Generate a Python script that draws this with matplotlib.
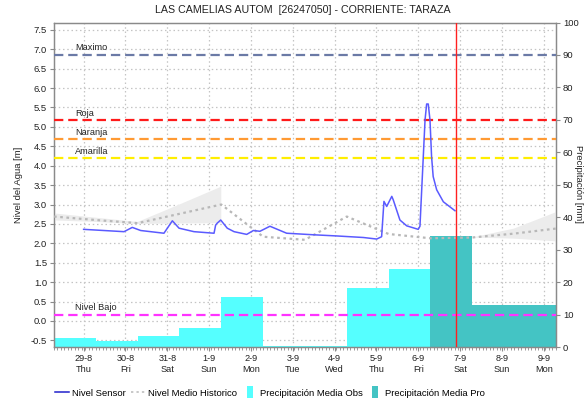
import numpy as np
import pandas as pd
import matplotlib
matplotlib.use('Agg')
import matplotlib.pyplot as plt
import matplotlib.dates as mdates
import matplotlib.transforms as mtransforms
from matplotlib.lines import Line2D
from matplotlib.ticker import FixedLocator, MultipleLocator

plt.rcParams['font.family'] = ['Liberation Sans', 'DejaVu Sans']

TITLE = 'LAS CAMELIAS AUTOM  [26247050] - CORRIENTE: TARAZA'

# Nivel Sensor (m)
sensor_time = ['2024-08-29 00:00', '2024-08-29 23:10', '2024-08-30 03:55', '2024-08-30 08:45',
               '2024-08-30 22:05', '2024-08-31 02:55', '2024-08-31 06:45', '2024-08-31 15:20',
               '2024-09-01 02:50', '2024-09-01 03:45', '2024-09-01 04:40', '2024-09-01 06:40',
               '2024-09-01 10:25', '2024-09-01 14:20', '2024-09-01 21:35', '2024-09-02 01:25',
               '2024-09-02 05:10', '2024-09-02 10:55', '2024-09-02 20:30', '2024-09-03 11:50',
               '2024-09-04 01:10', '2024-09-04 16:30', '2024-09-05 00:10', '2024-09-05 03:00',
               '2024-09-05 04:20', '2024-09-05 05:55', '2024-09-05 08:50', '2024-09-05 09:40',
               '2024-09-05 13:30', '2024-09-05 17:25', '2024-09-06 00:00', '2024-09-06 01:00',
               '2024-09-06 02:00', '2024-09-06 03:55', '2024-09-06 04:50', '2024-09-06 05:45',
               '2024-09-06 06:45', '2024-09-06 07:40', '2024-09-06 08:35', '2024-09-06 10:35',
               '2024-09-06 14:25', '2024-09-06 21:05']
sensor_level = [2.36, 2.30, 2.41, 2.33,
                2.26, 2.58, 2.39, 2.30,
                2.26, 2.47, 2.52, 2.60,
                2.39, 2.30, 2.23, 2.33,
                2.31, 2.44, 2.26, 2.22,
                2.19, 2.15, 2.11, 2.17,
                3.08, 2.95, 3.21, 3.12,
                2.60, 2.45, 2.36, 2.44,
                3.38, 5.18, 5.59, 5.59,
                5.18, 4.23, 3.72, 3.38,
                3.07, 2.84]

# Nivel Medio Historico (m) with its min/max band
hist_time = ['2024-08-28 07:00', '2024-08-29 07:00', '2024-08-30 07:00', '2024-08-31 07:00',
             '2024-09-01 07:00', '2024-09-02 07:00', '2024-09-03 07:00', '2024-09-04 07:00',
             '2024-09-05 07:00', '2024-09-06 07:00', '2024-09-07 07:00', '2024-09-08 07:00',
             '2024-09-09 07:00']
hist_level = [2.69, 2.60, 2.52, 2.76, 3.00, 2.17, 2.09, 2.69, 2.24, 2.13, 2.15, 2.25, 2.38]
hist_low = [2.59, 2.55, 2.50, 2.51, 2.52, np.nan, np.nan, np.nan, np.nan, np.nan, 2.15, 2.12, 2.05]
hist_high = [2.77, 2.66, 2.55, 3.00, 3.46, np.nan, np.nan, np.nan, np.nan, np.nan, 2.15, 2.38, 2.80]

# Precipitacion (mm), daily from 07:00
obs_start = ['2024-08-28 07:00', '2024-08-29 07:00', '2024-08-30 07:00', '2024-08-31 07:00',
             '2024-09-01 07:00', '2024-09-02 07:00', '2024-09-03 07:00', '2024-09-04 07:00',
             '2024-09-05 07:00']
obs_rain = [2.9, 1.9, 3.6, 6.1, 15.6, 0.5, 0.5, 18.4, 24.0]
pro_start = ['2024-09-06 07:00', '2024-09-07 07:00', '2024-09-08 07:00']
pro_rain = [34.4, 13.1, 13.1]

# umbrales
level_names = ['Maximo', 'Roja', 'Naranja', 'Amarilla', 'Nivel Bajo']
level_values = [6.86, 5.17, 4.69, 4.19, 0.16]
level_colors = ['#6b7aa6', '#ff1a1a', '#ff9a33', '#ffee00', '#ff33ff']

now_time = '2024-09-06 21:50'
day_labels = ['29-8\nThu', '30-8\nFri', '31-8\nSat', '1-9\nSun', '2-9\nMon', '3-9\nTue',
              '4-9\nWed', '5-9\nThu', '6-9\nFri', '7-9\nSat', '8-9\nSun', '9-9\nMon']

x_start = pd.Timestamp('2024-08-28 07:00')
x_end = pd.Timestamp('2024-09-09 07:00')
LEVEL_LO, LEVEL_HI = -0.68, 7.69

fig = plt.figure(figsize=(5.87, 4.04), dpi=100)
ax = fig.add_axes([0.092, 0.1403, 0.855, 0.804])   # precipitation (drawn first)
ax2 = ax.twinx()                                     # water level (on top)
ax.yaxis.tick_right()
ax.yaxis.set_label_position('right')
ax2.yaxis.tick_left()
ax2.yaxis.set_label_position('left')

# bars
obs_x = mdates.date2num(pd.to_datetime(obs_start))
pro_x = mdates.date2num(pd.to_datetime(pro_start))
ax.bar(obs_x, obs_rain, width=1.0, align='edge', color='#55ffff', linewidth=0, zorder=2)
ax.bar(pro_x, pro_rain, width=1.0, align='edge', color='#44c4c4', linewidth=0, zorder=2)
ax.set_ylim(0, 100)
ax.yaxis.set_major_locator(MultipleLocator(10))

# grid drawn behind the bars, at the level-axis ticks
level_ticks = np.arange(-0.5, 7.51, 0.5)
ax.yaxis.set_minor_locator(FixedLocator((level_ticks - LEVEL_LO) / (LEVEL_HI - LEVEL_LO) * 100))
ax.grid(which='minor', axis='y', color='#c4c4c4', linestyle=(0, (1.2, 2.2)), linewidth=0.9, zorder=0)
ax.grid(which='major', axis='x', color='#c4c4c4', linestyle=(0, (1.2, 2.2)), linewidth=0.9, zorder=0)
ax.set_axisbelow(True)

# historical band and mean
ht = pd.to_datetime(hist_time)
ax2.fill_between(ht, hist_low, hist_high, color='#ececec', linewidth=0, zorder=1)
ax2.plot(ht, hist_level, color='#b8b8b8', linewidth=1.6, linestyle=(0, (1.2, 1.6)), zorder=3)

# thresholds
lab_tr = mtransforms.blended_transform_factory(ax2.transAxes, ax2.transData)
for name, val, col in zip(level_names, level_values, level_colors):
    ax2.axhline(val, color=col, linewidth=1.6, linestyle=(0, (4.2, 2.2)), zorder=4)
    ax2.text(0.042, val + 0.06, name, transform=lab_tr, fontsize=6.6, color='#222222',
             va='bottom', ha='left', zorder=5)

# sensor
ax2.plot(pd.to_datetime(sensor_time), sensor_level, color='#5a5aff', linewidth=1.1, zorder=6)

# now
ax2.axvline(pd.Timestamp(now_time), color='#ff2020', linewidth=1.0, zorder=7)

ax2.set_ylim(LEVEL_LO, LEVEL_HI)
ax2.set_yticks(level_ticks)
ax2.set_yticklabels(['%.1f' % v for v in level_ticks])
ax.set_xlim(x_start, x_end)

ax.xaxis.set_major_locator(FixedLocator(mdates.date2num(pd.date_range('2024-08-29', '2024-09-09', freq='D'))))
ax.set_xticklabels(day_labels)
ax.xaxis.set_minor_locator(mdates.HourLocator(interval=2))

for a in (ax, ax2):
    for s in a.spines.values():
        s.set_color('#8a8a8a')
        s.set_linewidth(0.9)
ax.tick_params(axis='x', which='major', labelsize=6.6, colors='#8a8a8a', labelcolor='#222222', length=3, pad=2)
ax.tick_params(axis='x', which='minor', length=2, colors='#8a8a8a')
ax.tick_params(axis='y', which='major', labelsize=6.8, colors='#8a8a8a', labelcolor='#222222', length=3, pad=2)
ax.tick_params(axis='y', which='minor', length=0)
ax2.tick_params(axis='y', labelsize=6.8, colors='#8a8a8a', labelcolor='#222222', length=3, pad=2)

fig.text(0.516, 0.975, TITLE, ha='center', va='center', fontsize=7.7, color='#222222')
fig.text(0.031, 0.542, 'Nivel del Agua [m]', rotation=90, ha='center', va='center', fontsize=6.8, color='#222222')
fig.text(0.985, 0.545, 'Precipitación [mm]', rotation=270, ha='center', va='center', fontsize=6.8, color='#222222')

# legend
rect = [(-0.3, -0.5), (0.3, -0.5), (0.3, 0.5), (-0.3, 0.5)]
handles = [
    Line2D([], [], color='#2020cc', linewidth=1.1),
    Line2D([], [], color='#c8c8c8', linewidth=1.4, linestyle=(0, (1.2, 1.6))),
    Line2D([], [], linestyle='none', marker=rect, markersize=8, markerfacecolor='#55ffff', markeredgewidth=0),
    Line2D([], [], linestyle='none', marker=rect, markersize=8, markerfacecolor='#44c4c4', markeredgewidth=0),
]
names = ['Nivel Sensor', 'Nivel Medio Historico', 'Precipitación Media Obs', 'Precipitación Media Pro']
fig.legend(handles, names, loc='center', bbox_to_anchor=(0.46, 0.027), ncol=4, frameon=False,
           fontsize=6.8, handlelength=1.5, handletextpad=0.3, columnspacing=0.6, borderaxespad=0)

fig.savefig('out.png', dpi=100)
